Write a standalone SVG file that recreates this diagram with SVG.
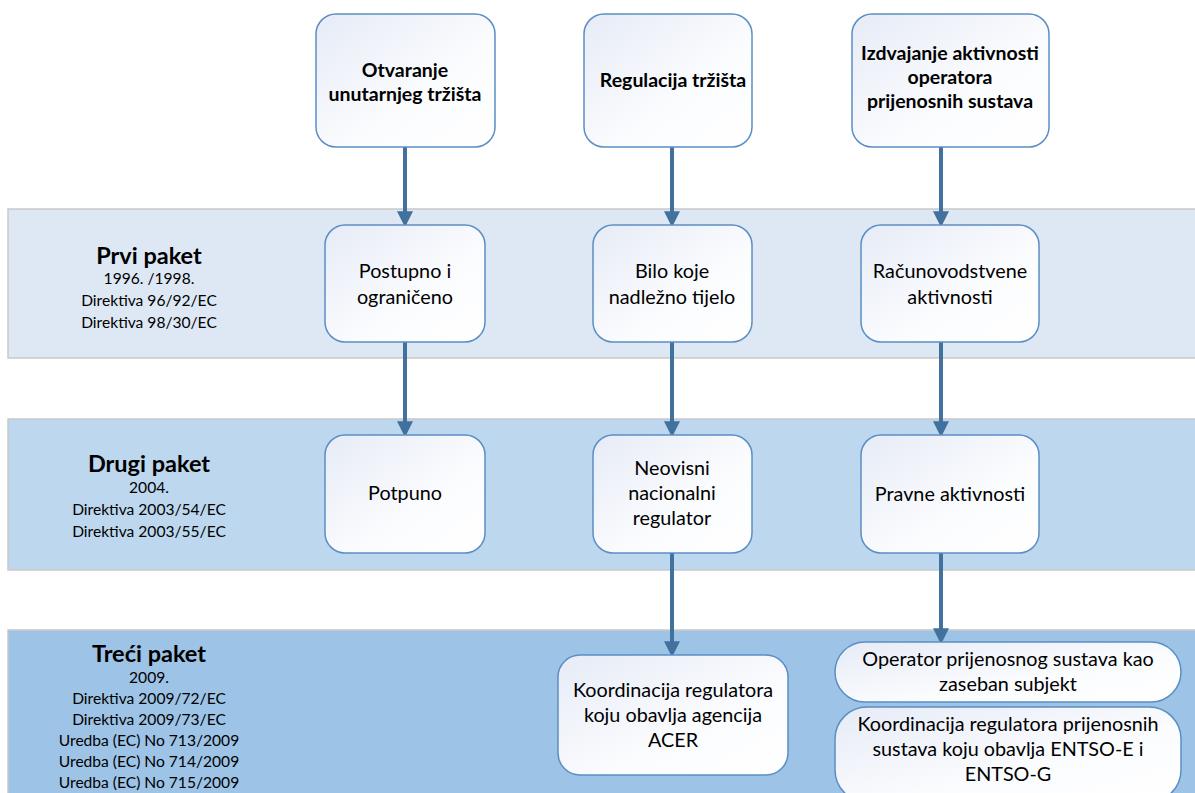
<svg xmlns="http://www.w3.org/2000/svg" width="1195" height="793" viewBox="0 0 1195 793">
<style>
.band{stroke:#c9c9c9;stroke-width:1.5}
.box{fill:url(#g);stroke:#5b8ec4;stroke-width:1.5}
.t{font-family:Lato,"Liberation Sans",sans-serif;fill:#000;text-anchor:middle}
.h{font-size:19.5px;font-weight:bold}
.b{font-size:19.8px}
.bh{font-size:23.5px;font-weight:bold}
.s{font-size:15.6px}
.c{stroke:#41719c;stroke-width:4;fill:none;marker-end:url(#a)}
</style>
<defs>
<linearGradient id="g" x1="0" y1="0" x2="1" y2="1">
<stop offset="0" stop-color="#e6ebf6"/>
<stop offset="0.6" stop-color="#fbfcfe"/>
<stop offset="1" stop-color="#ffffff"/>
</linearGradient>
<marker id="a" markerWidth="4" markerHeight="4" refX="2.2" refY="2" orient="auto" markerUnits="strokeWidth" viewBox="0 0 4 4">
<path d="M0,0 L4,2 L0,4 Z" fill="#41719c"/>
</marker>
</defs>
<rect width="1195" height="793" fill="#fff"/>
<g id="band1"><rect class="band" x="8" y="209" width="1195" height="149" fill="#dde8f4"/>
<text class="t bh" x="149" y="264">Prvi paket</text>
<text class="t s" x="149" y="284">1996. /1998.</text>
<text class="t s" x="149" y="306">Direktiva 96/92/EC</text>
<text class="t s" x="149" y="328">Direktiva 98/30/EC</text></g>
<g id="band2"><rect class="band" x="8" y="419" width="1195" height="151" fill="#bdd7ee"/>
<text class="t bh" x="149" y="472">Drugi paket</text>
<text class="t s" x="149" y="493">2004.</text>
<text class="t s" x="149" y="515">Direktiva 2003/54/EC</text>
<text class="t s" x="149" y="537">Direktiva 2003/55/EC</text></g>
<g id="band3"><rect class="band" x="8" y="630" width="1195" height="170" fill="#9dc3e6"/>
<text class="t bh" x="149" y="662">Treći paket</text>
<text class="t s" x="149" y="683">2009.</text>
<text class="t s" x="149" y="704">Direktiva 2009/72/EC</text>
<text class="t s" x="149" y="725">Direktiva 2009/73/EC</text>
<text class="t s" x="149" y="746">Uredba (EC) No 713/2009</text>
<text class="t s" x="149" y="767">Uredba (EC) No 714/2009</text>
<text class="t s" x="149" y="788">Uredba (EC) No 715/2009</text></g>
<g id="connectors">
<line class="c" x1="405" y1="147" x2="405" y2="220"/>
<line class="c" x1="672" y1="147" x2="672" y2="220"/>
<line class="c" x1="941" y1="147" x2="941" y2="220"/>
<line class="c" x1="405" y1="342" x2="405" y2="430"/>
<line class="c" x1="672" y1="342" x2="672" y2="430"/>
<line class="c" x1="941" y1="342" x2="941" y2="430"/>
<line class="c" x1="672" y1="553" x2="672" y2="650"/>
<line class="c" x1="941" y1="553" x2="941" y2="637"/>
</g>
<g id="n1"><rect class="box" x="316" y="14" width="179" height="133" rx="20"/>
<text class="t h" x="405" y="77">Otvaranje</text><text class="t h" x="405" y="101">unutarnjeg tržišta</text></g>
<g id="n2"><rect class="box" x="584" y="14" width="168" height="133" rx="20"/>
<text class="t h" x="673" y="87">Regulacija tržišta</text></g>
<g id="n3"><rect class="box" x="852" y="14" width="197" height="133" rx="20"/>
<text class="t h" x="950" y="60">Izdvajanje aktivnosti</text><text class="t h" x="950" y="84">operatora</text><text class="t h" x="950" y="108">prijenosnih sustava</text></g>
<g id="n4"><rect class="box" x="325" y="225" width="160" height="117" rx="20"/>
<text class="t b" x="405" y="278">Postupno i</text><text class="t b" x="405" y="304">ograničeno</text></g>
<g id="n5"><rect class="box" x="593" y="225" width="159" height="117" rx="20"/>
<text class="t b" x="672" y="278">Bilo koje</text><text class="t b" x="672" y="304">nadležno tijelo</text></g>
<g id="n6"><rect class="box" x="861" y="225" width="178" height="117" rx="20"/>
<text class="t b" x="950" y="278">Računovodstvene</text><text class="t b" x="950" y="304">aktivnosti</text></g>
<g id="n7"><rect class="box" x="325" y="435" width="160" height="118" rx="20"/>
<text class="t b" x="405" y="500">Potpuno</text></g>
<g id="n8"><rect class="box" x="593" y="435" width="159" height="118" rx="20"/>
<text class="t b" x="672" y="475">Neovisni</text><text class="t b" x="672" y="500">nacionalni</text><text class="t b" x="672" y="525">regulator</text></g>
<g id="n9"><rect class="box" x="861" y="435" width="178" height="118" rx="20"/>
<text class="t b" x="950" y="501">Pravne aktivnosti</text></g>
<g id="n10"><rect class="box" x="558" y="655" width="230" height="120" rx="22"/>
<text class="t b" x="673" y="697">Koordinacija regulatora</text><text class="t b" x="673" y="722">koju obavlja agencija</text><text class="t b" x="673" y="747">ACER</text></g>
<g id="n11"><rect class="box" x="835" y="642" width="346" height="60" rx="30"/>
<text class="t b" x="1008" y="666">Operator prijenosnog sustava kao</text><text class="t b" x="1008" y="691">zaseban subjekt</text></g>
<g id="n12"><rect class="box" x="835" y="707" width="346" height="95" rx="32"/>
<text class="t b" x="1008" y="731">Koordinacija regulatora prijenosnih</text><text class="t b" x="1008" y="756">sustava koju obavlja ENTSO-E i</text><text class="t b" x="1008" y="781">ENTSO-G</text></g>
</svg>
